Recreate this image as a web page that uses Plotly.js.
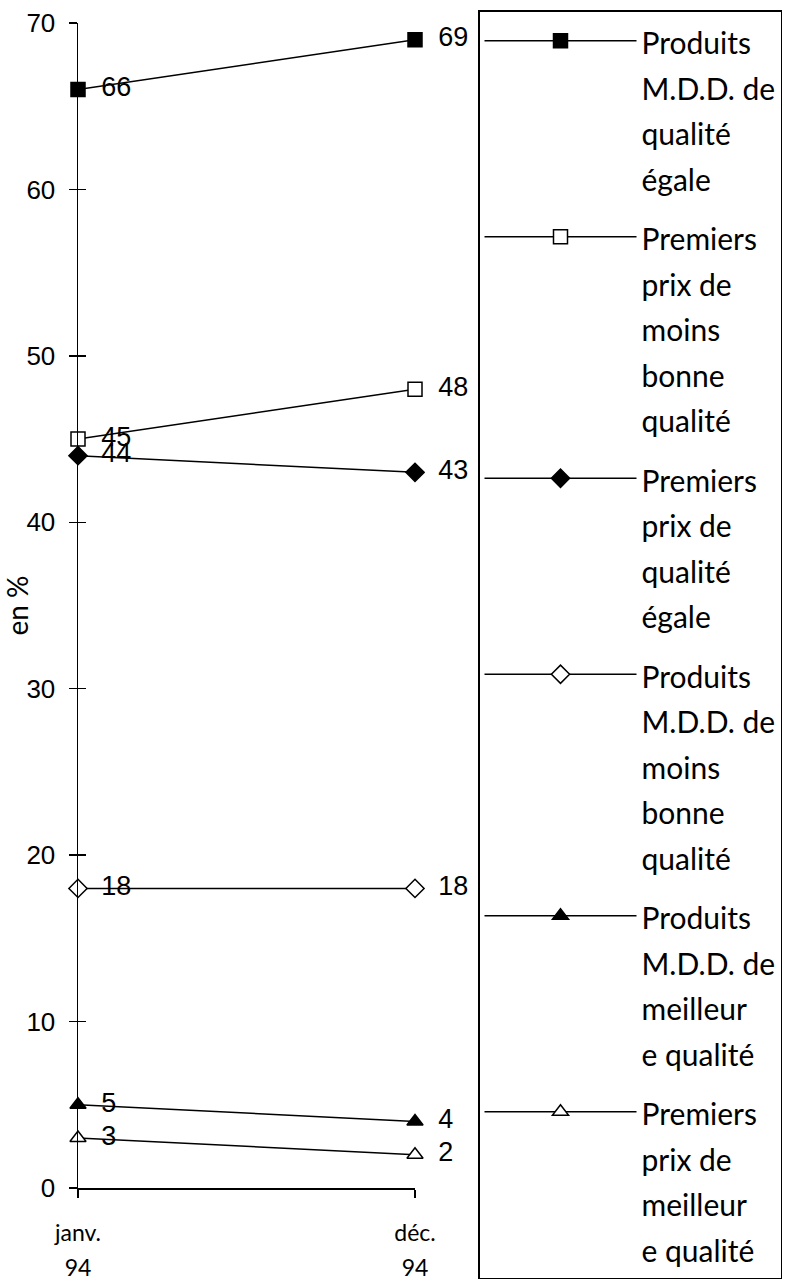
<!DOCTYPE html>
<html><head><meta charset="utf-8">
<script src="https://cdn.plot.ly/plotly-3.0.1.min.js"></script>
<style>html,body{margin:0;padding:0;background:#fff}#chart{width:795px;height:1286px}</style>
</head><body><div id="chart"></div>
<script>
// ---- data ----
const periods = [0, 1];
const periodLabels = [['janv.', '94'], ['déc.', '94']];
const yTitle = 'en %';

const nameMddEgale = ['Produits', 'M.D.D. de', 'qualité', 'égale'];
const namePpMoins = ['Premiers', 'prix de', 'moins', 'bonne', 'qualité'];
const namePpEgale = ['Premiers', 'prix de', 'qualité', 'égale'];
const nameMddMoins = ['Produits', 'M.D.D. de', 'moins', 'bonne', 'qualité'];
const nameMddMeilleur = ['Produits', 'M.D.D. de', 'meilleur', 'e qualité'];
const namePpMeilleur = ['Premiers', 'prix de', 'meilleur', 'e qualité'];

const valMddEgale = [66, 69];
const valPpMoins = [45, 48];
const valPpEgale = [44, 43];
const valMddMoins = [18, 18];
const valMddMeilleur = [5, 4];
const valPpMeilleur = [3, 2];

// ---- styles ----
const humanist = 'Lato, "Open Sans", sans-serif';
const grotesk = '"Liberation Sans", Arial, sans-serif';
const legendSpan = s => '<span style="font-size:30px">' + s + '</span>';
const tickSpan = s => '<span style="font-size:23px">' + s + '</span>';

let groupIdx = 0;
function series(names, vals, symbol, filled) {
  groupIdx += 1;
  return {
    x: periods, y: vals, type: 'scatter', mode: 'lines+markers+text',
    name: names.map(legendSpan).join('<br>'),
    legendgroup: 'g' + groupIdx,
    text: vals.map(v => '\u2002' + v), textposition: 'middle right',
    textfont: {family: grotesk, size: 27, color: '#000'},
    cliponaxis: false,
    line: {color: '#000', width: 1.5},
    marker: {symbol: symbol, size: 14, color: filled ? '#000' : '#fff',
             line: {color: '#000', width: 1.5}}
  };
}

const data = [
  series(nameMddEgale, valMddEgale, 'square', true),
  series(namePpMoins, valPpMoins, 'square', false),
  series(namePpEgale, valPpEgale, 'diamond', true),
  series(nameMddMoins, valMddMoins, 'diamond', false),
  series(nameMddMeilleur, valMddMeilleur, 'triangle-up', true),
  series(namePpMeilleur, valPpMeilleur, 'triangle-up', false),
  {x: [], y: [], xaxis: 'x2', yaxis: 'y', showlegend: false, hoverinfo: 'skip'},
  {x: [], y: [], xaxis: 'x', yaxis: 'y2', showlegend: false, hoverinfo: 'skip'}
];

const layout = {
  width: 795, height: 1286,
  paper_bgcolor: '#fff', plot_bgcolor: '#fff',
  margin: {l: 78, r: 380, t: 23, b: 98},
  showlegend: true,
  xaxis: {
    range: [0, 1], tickmode: 'array', tickvals: periods,
    ticktext: periodLabels.map(l => l.map(tickSpan).join('<br>')),
    showline: true, linecolor: '#000', linewidth: 1.5,
    ticks: 'outside', ticklen: 8, tickwidth: 1.5, tickcolor: '#000',
    tickfont: {family: humanist, size: 27, color: '#000'},
    ticklabelstandoff: 11,
    showgrid: false, zeroline: false, fixedrange: true
  },
  xaxis2: {
    overlaying: 'x', anchor: 'y', range: [0, 1], tickmode: 'array', tickvals: periods,
    showticklabels: false, showline: false,
    ticks: 'inside', ticklen: 8, tickwidth: 1.5, tickcolor: '#000',
    showgrid: false, zeroline: false
  },
  yaxis: {
    range: [0, 70], dtick: 10, tick0: 0,
    showline: true, linecolor: '#000', linewidth: 1.5,
    ticks: 'outside', ticklen: 8, tickwidth: 1.5, tickcolor: '#000',
    tickfont: {family: grotesk, size: 26, color: '#000'},
    ticklabelstandoff: 8,
    title: {text: yTitle, font: {family: humanist, size: 28, color: '#000'}, standoff: 0},
    showgrid: false, zeroline: false, fixedrange: true
  },
  yaxis2: {
    overlaying: 'y', anchor: 'x', side: 'left', range: [0, 70], dtick: 10, tick0: 0,
    showticklabels: false, showline: false,
    ticks: 'inside', ticklen: 8, tickwidth: 1.5, tickcolor: '#000',
    showgrid: false, zeroline: false
  },
  legend: {
    xref: 'container', yref: 'container',
    x: 478 / 795, y: 1 - 10 / 1286, xanchor: 'left', yanchor: 'top',
    bgcolor: '#fff', bordercolor: '#000', borderwidth: 1.5,
    font: {family: humanist, size: 35, color: '#000'},
    itemwidth: 152, valign: 'top', traceorder: 'grouped', tracegroupgap: 11,
    maxheight: 1280
  }
};

Plotly.newPlot('chart', data, layout, {staticPlot: true, displayModeBar: false});
</script></body></html>
